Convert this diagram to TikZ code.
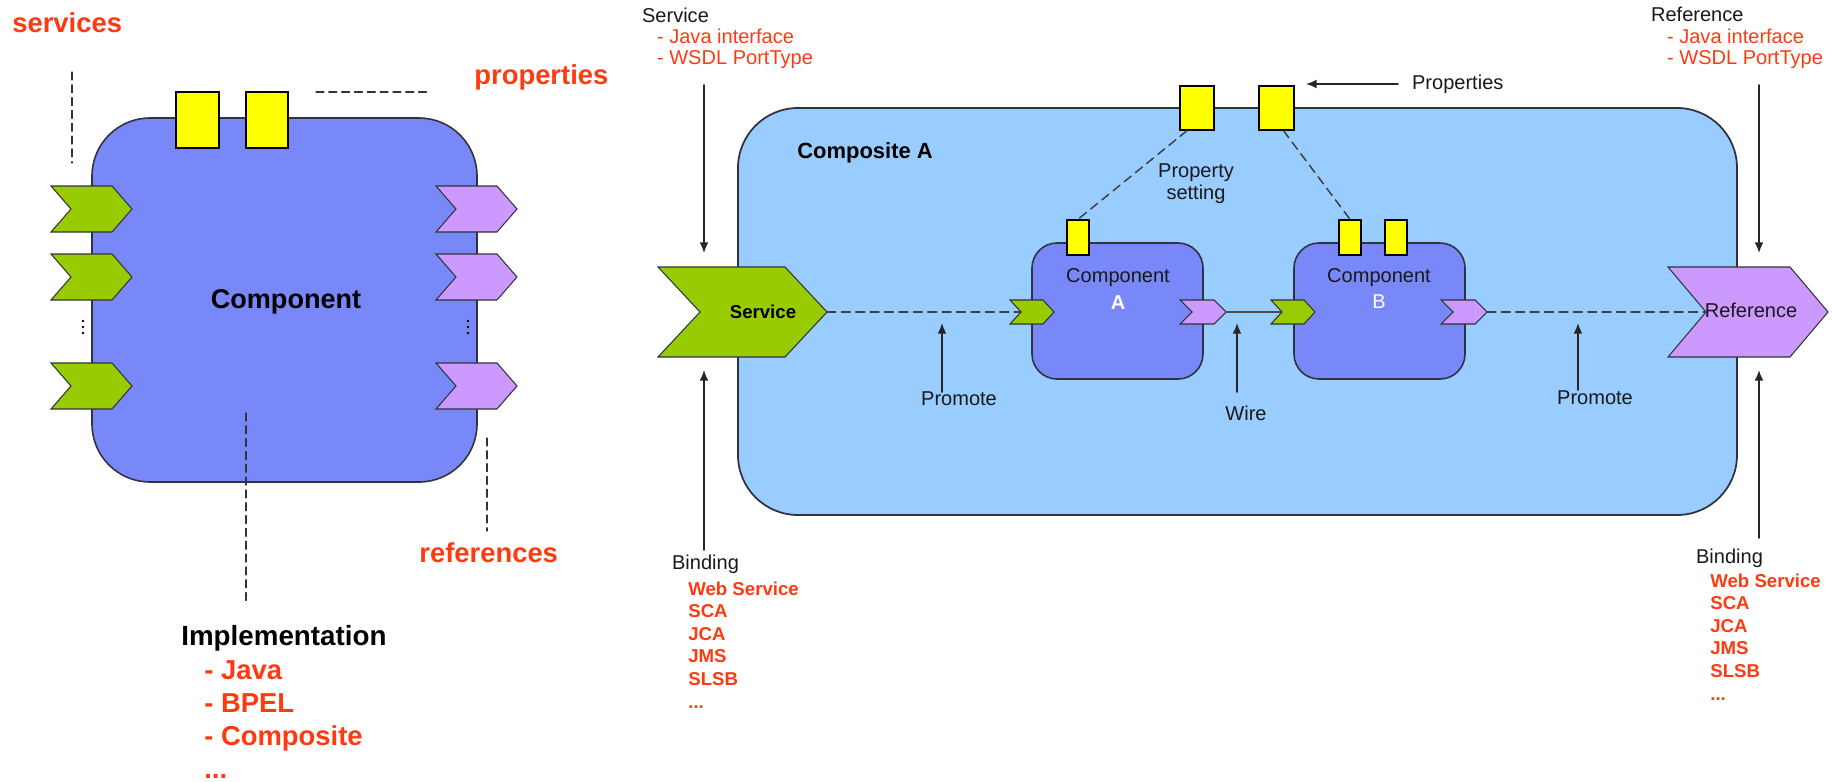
\documentclass[tikz,border=0pt]{standalone}
\usepackage{fontspec}
\setmainfont{Liberation Sans}
\usetikzlibrary{arrows.meta,fit}

\definecolor{labelred}{RGB}{255,58,16}
\definecolor{compblue}{RGB}{120,136,248}
\definecolor{compositeblue}{RGB}{153,204,255}
\definecolor{svcgreen}{RGB}{153,204,0}
\definecolor{refpurple}{RGB}{204,153,255}
\definecolor{propyellow}{RGB}{255,255,0}
\definecolor{edgegray}{RGB}{50,50,60}

% chevron: name, fill, left x, middle y, width, half height, point depth
\newcommand\chevron[7]{%
  \filldraw[fill=#2,draw=edgegray,line width=0.6pt,line join=miter]
    (#3,{#4-#6}) -- ({#3+#5-#7},{#4-#6}) -- ({#3+#5},#4) coordinate (#1-tip)
    -- ({#3+#5-#7},{#4+#6}) -- (#3,{#4+#6}) -- ({#3+#7},#4) coordinate (#1-notch) -- cycle;}

\begin{document}
\begin{tikzpicture}[x=0.02cm,y=-0.02cm,line cap=round,
  bigred/.style={inner sep=0pt,text=labelred,font=\fontsize{15.6}{18}\selectfont\bfseries},
  bigtxt/.style={inner sep=0pt,font=\fontsize{15.8}{19}\selectfont\bfseries},
  lbl/.style={inner sep=1pt,text=black!90,font=\fontsize{11.4}{12.6}\selectfont},
  redlbl/.style={lbl,text=labelred},
  bindred/.style={inner sep=0pt,text=labelred,font=\fontsize{10.6}{12}\selectfont\bfseries},
  leader/.style={draw=black!80,line width=0.7pt,dash pattern=on 4.5pt off 2.8pt},
  promote/.style={draw=black!75,line width=0.85pt,dash pattern=on 5pt off 3.2pt},
  arr/.style={draw=black!85,line width=0.9pt,-{Latex[length=6pt,width=5pt]}},
  comp/.style={draw=edgegray,fill=compblue,line width=0.9pt,inner sep=0pt},
  composite/.style={draw=edgegray,fill=compositeblue,line width=1pt,inner sep=0pt,rounded corners=1.2cm},
  prop/.style={draw=black,fill=propyellow,line width=0.8pt,inner sep=0pt}]

\useasboundingbox (0,0) rectangle (1832,781);

% ---- a single component ----
\node[comp,rounded corners=1.16cm,fit={(92,118) (477,482)}] (comp) {};
\node[prop,fit={(176,92) (219,148)}] (lprop1) {};
\node[prop,fit={(246,92) (288,148)}] (lprop2) {};
\foreach \y in {209,277,386}{
  \chevron{lsvc\y}{svcgreen}{51}{\y}{81}{23}{20}
  \chevron{lref\y}{refpurple}{436}{\y}{81}{23}{20}
}
\foreach \x in {83,468} \foreach \y in {321,327,333} \fill (\x,\y) circle (0.8pt);
\node[inner sep=0pt,font=\fontsize{15.4}{18}\selectfont\bfseries] (compname) at (286,302) {Component};

\node[bigred,anchor=base west] (services) at (12,32) {services};
\node[bigred,anchor=base west] (properties) at (474,84) {properties};
\node[bigred,anchor=base west] (references) at (419,562) {references};
\node[bigtxt,anchor=base west] (impl) at (181,645) {Implementation};
\foreach \t [count=\i] in {- Java,- BPEL,- Composite}
  \node[bigred,anchor=base west] (impl\i) at (204,{646+33*\i}) {\t};
\node[bigred,anchor=base west] (impl4) at (204,778) {...};

\draw[leader] (72,72) -- (72,163);
\draw[leader] (316,92) -- (430,92);
\draw[leader] (246,413) -- (246,602);
\draw[leader] (487,438) -- (487,531);

% ---- composite A ----
\node[composite,fit={(738,108) (1737,515)}] (compositeA) {};
\node[prop,fit={(1180,86) (1214,130)}] (cprop1) {};
\node[prop,fit={(1259,86) (1294,130)}] (cprop2) {};
\node[comp,rounded corners=0.5cm,fit={(1032,243) (1203,379)}] (compA) {};
\node[comp,rounded corners=0.5cm,fit={(1294,243) (1465,379)}] (compB) {};
\node[prop,fit={(1067,220) (1089,255)}] (aprop) {};
\node[prop,fit={(1339,220) (1361,255)}] (bprop1) {};
\node[prop,fit={(1385,220) (1407,255)}] (bprop2) {};

\chevron{svc}{svcgreen}{658}{312}{169}{45}{42}
\chevron{ref}{refpurple}{1668}{312}{160}{45}{38}
\chevron{svcA}{svcgreen}{1010}{312}{44}{12}{11}
\chevron{refA}{refpurple}{1180}{312}{46}{12}{12}
\chevron{svcB}{svcgreen}{1271}{312}{44}{12}{11}
\chevron{refB}{refpurple}{1441}{312}{46}{12}{12}

\draw[promote] (svc-tip) -- (svcA-notch);
\draw[draw=black!70,line width=0.8pt] (refA-tip) -- (svcB-notch);
\draw[promote] (refB-tip) -- (ref-notch);
\draw[promote] ([xshift=-0.2cm]cprop1.south) -- (aprop.north);
\draw[promote] ([xshift=0.14cm]cprop2.south) -- (bprop1.north);

\node[inner sep=0pt,anchor=base west,font=\fontsize{12.5}{14}\selectfont\bfseries] (compositeLbl) at (797,158) {Composite A};
\node[inner sep=0pt,font=\fontsize{10.6}{12}\selectfont\bfseries] (svcLbl) at (763,312) {Service};
\node[lbl] (refLbl) at (1751,310) {Reference};
\node[lbl] (compALbl) at (1118,278) {Component};
\node[lbl,text=white,font=\fontsize{11.4}{12.6}\selectfont\bfseries] (compAName) at (1118,303) {A};
\node[lbl] (compBLbl) at (1379,278) {Component};
\node[lbl,text=white] (compBName) at (1379,302) {B};
\node[lbl,align=center] (propset) at (1196,184) {Property\\setting};
\node[lbl,anchor=west] (propsLbl) at (1410,84) {Properties};
\coordinate (propsTip) at (1306,84);
\draw[arr] ([xshift=-0.24cm]propsLbl.west) -- (propsTip);

% promote and wire callouts
\node[lbl] (promoteA) at (959,399) {Promote};
\node[lbl] (wireLbl) at (1246,413) {Wire};
\node[lbl] (promoteB) at (1595,398) {Promote};
\coordinate (promoteATip) at (942,323);
\coordinate (wireTip) at (1237,323);
\coordinate (promoteBTip) at (1578,323);
\draw[arr] (942,392) -- (promoteATip);
\draw[arr] (1237,392) -- (wireTip);
\draw[arr] (1578,390) -- (promoteBTip);

% service side: interface and binding
\node[lbl,anchor=base west] (svcTitle) at (640,22) {Service};
\node[redlbl,anchor=base west] (svcIf1) at (655,43) {- Java interface};
\node[redlbl,anchor=base west] (svcIf2) at (655,64) {- WSDL PortType};
\coordinate (svcIfTop) at (704,85);
\coordinate (svcIfEnd) at (704,253);
\draw[arr] (svcIfTop) -- (svcIfEnd);
\node[lbl,anchor=base west] (svcBind) at (670,569) {Binding};
\foreach \t [count=\i] in {Web Service,SCA,JCA,JMS,SLSB}
  \node[bindred,anchor=base west] (svcBind\i) at (688,{572.4+22.6*\i}) {\t};
\node[bindred,anchor=base west] (svcBind6) at (688,708) {...};
\coordinate (svcBindFoot) at (704,550);
\coordinate (svcBindEnd) at (704,370);
\draw[arr] (svcBindFoot) -- (svcBindEnd);

% reference side: interface and binding
\node[lbl,anchor=base west] (refTitle) at (1649,21) {Reference};
\node[redlbl,anchor=base west] (refIf1) at (1665,43) {- Java interface};
\node[redlbl,anchor=base west] (refIf2) at (1665,64) {- WSDL PortType};
\coordinate (refIfTop) at (1759,85);
\coordinate (refIfEnd) at (1759,253);
\draw[arr] (refIfTop) -- (refIfEnd);
\node[lbl,anchor=base west] (refBind) at (1694,563) {Binding};
\foreach \t [count=\i] in {Web Service,SCA,JCA,JMS,SLSB}
  \node[bindred,anchor=base west] (refBind\i) at (1710,{564.4+22.6*\i}) {\t};
\node[bindred,anchor=base west] (refBind6) at (1710,700) {...};
\coordinate (refBindFoot) at (1759,538);
\coordinate (refBindEnd) at (1759,370);
\draw[arr] (refBindFoot) -- (refBindEnd);
\end{tikzpicture}
\end{document}
